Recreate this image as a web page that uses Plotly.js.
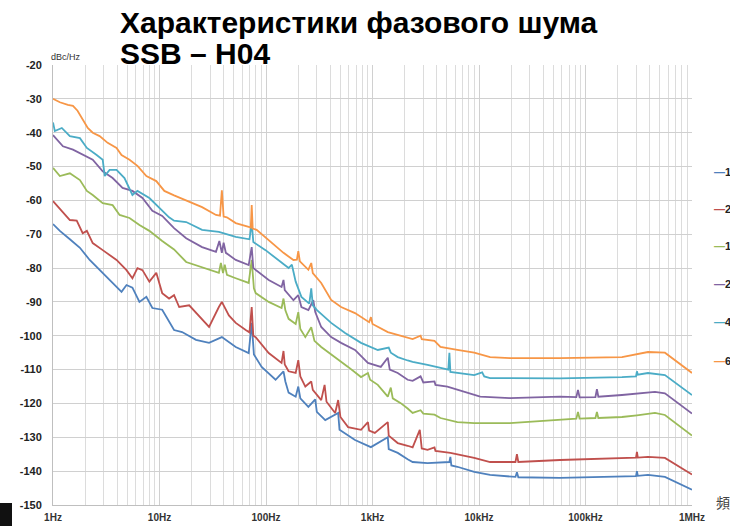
<!DOCTYPE html>
<html><head><meta charset="utf-8">
<script src="https://cdn.plot.ly/plotly-3.0.1.min.js"></script>
<style>body{margin:0;background:#fff}#chart{width:730px;height:526px}</style>
</head><body><div id="chart"></div>
<script>
// Offset frequency (Hz) and SSB phase noise (dBc/Hz) per carrier
const f10M = [1,1.16,1.44,1.79,2.21,2.74,3.4,3.95,4.4,4.9,5.57,6.48,7.53,8.57,10.6,13.7,16.3,22,29.2,38.5,52,68.8,73.4,77,91,123,146,152,163,190,201,210,250,290,300,360,476,490,685,966,1392,1420,1726,2138,2382,3286,5273,5385,5500,6262,9020,12710,19500,22000,22700,23400,57600,220000,298000,304000,310000,386000,557000,1000000];
const n10M = [-67,-69,-71.5,-74,-77.6,-80.6,-83.5,-85.6,-87,-85,-85.8,-90,-88.5,-91.8,-92.3,-98.3,-98.9,-101.2,-102.1,-100.4,-103.3,-105.1,-96.2,-105.5,-109.2,-113,-110.5,-113.5,-116.8,-118,-115,-118.5,-121,-118.8,-122.5,-124.9,-122.8,-127.8,-130.8,-132.9,-130,-133.5,-134.6,-136.5,-137.3,-137.6,-137.3,-135.8,-138.3,-138.7,-140.2,-141.1,-141.7,-141.7,-140.3,-141.8,-142,-141.7,-141.5,-140,-141.4,-141.1,-141.7,-145.5];

const f20M = [1,1.24,1.44,1.67,1.9,2.08,2.36,2.93,3.95,4.9,5.57,6.21,6.92,8.03,9.33,10.6,12.3,13.7,15.3,19,25.1,29.2,36.1,38.5,44.8,52,64.5,70,73.4,76,80,106,140,146,150,163,190,201,210,234,266,275,330,355,370,446,476,500,590,780,906,930,1052,1392,1420,1726,2138,2382,2780,2900,3286,3820,3900,5385,9020,12710,19500,22000,22700,23400,57600,220000,298000,304000,310000,386000,557000,1000000];
const n20M = [-60.2,-63.7,-65.8,-66,-69.7,-69,-72.6,-74.7,-77.6,-80.6,-83,-80,-80.6,-84,-81.4,-87.4,-89,-88,-91.5,-91,-95.3,-97.4,-91.5,-90,-94,-96.2,-98.3,-99,-91.5,-100,-100.4,-105.1,-108,-104.5,-108.5,-110.5,-111,-107.2,-112,-115,-113.5,-116,-119,-114.5,-119.5,-122.8,-119,-124,-127,-127.8,-125.5,-128,-128.7,-125.5,-129.5,-131.7,-132.5,-133,-127.8,-133.3,-133.7,-133,-134,-134.6,-136.1,-137.3,-137.3,-137.3,-135,-137.3,-136.7,-136.1,-136,-134.3,-136,-135.8,-136.1,-141];

const f100M = [1,1.16,1.44,1.79,2.08,2.36,2.93,3.63,4.22,5.23,6.48,8.03,10.6,13.7,17.8,25.1,36.1,37.7,39.5,41,43,52,68.8,73.4,77,80,106,140,146,152,163,190,201,210,234,266,285,330,446,590,780,906,950,1122,1392,1485,1550,1841,2138,2382,2827,3000,3820,4345,6262,9020,19500,57600,82000,85000,88000,124000,128000,132000,220000,304000,449000,557000,1000000];
const n100M = [-50.4,-52.8,-52,-54,-57.2,-58.4,-60.8,-61.4,-64.3,-65.2,-67.3,-69,-72,-74.5,-78.2,-79.7,-81.4,-78.5,-81.5,-79,-82,-83,-84.4,-77.6,-86,-87.4,-90,-91.8,-89,-92.5,-95,-96.5,-93,-98,-100.4,-97.5,-101.5,-103.3,-106.3,-109.2,-112.2,-111,-113,-114.5,-118,-115.3,-118.5,-119.9,-121.5,-122.8,-122,-123,-123.3,-124.3,-125.5,-125.8,-125.8,-124.9,-124.5,-122.5,-124.5,-124.3,-122.5,-124.3,-124,-123.5,-122.8,-123.4,-129.5];

const f200M = [1,1.24,1.54,1.9,2.36,2.93,3.63,4.5,5.57,6.92,8.57,10.6,13.7,17.8,25.1,33.9,36.5,38.5,40,42,52,68.8,73.4,76,85.3,106,140,146,150,181,201,215,250,278,290,330,409,507,685,906,1197,1392,1453,1726,2138,2382,2827,3000,3820,3900,5050,7278,10260,19500,57600,82000,85000,88000,124000,128000,132000,220000,304000,449000,557000,1000000];
const n200M = [-40.7,-44,-45,-46.6,-48,-51.4,-53.4,-56.3,-57.2,-59.3,-63.1,-64.6,-68.2,-71.2,-73.8,-75.2,-72,-75.5,-72.5,-75.5,-77.6,-79.1,-73.8,-80,-81.2,-83.5,-85.6,-83.5,-86.5,-89.5,-88,-91.5,-92.4,-89.5,-93,-97.4,-100.4,-102.1,-104.2,-108,-109.2,-106.5,-110,-111,-113,-113.3,-112,-113.8,-113.5,-114.5,-115,-116.6,-118,-118.4,-118,-118.1,-116,-118.2,-118.1,-115.8,-118,-117.5,-117,-116.6,-117,-123];

const f400M = [1,1.04,1.21,1.44,1.79,2.08,2.57,2.93,3.06,3.4,3.95,4.69,5.57,6.21,8.03,9.96,12.3,13.7,17.8,25.1,36.1,52,70,73.4,76,99,131,163,175,190,215,255,266,275,301,409,553,780,1122,1420,1485,1726,2138,2382,3286,4345,5150,5273,5385,9020,10710,11200,12710,19500,57600,220000,298000,304000,310000,386000,557000,1000000];
const n400M = [-37,-39.5,-38.6,-41,-41.6,-44.5,-46.6,-48,-52.8,-51,-51,-53.4,-58.4,-57.2,-59.3,-62.2,-65,-66,-66.4,-68.7,-69.3,-70.8,-71.5,-66.5,-72.3,-74.7,-77.6,-80,-79,-84,-88.5,-90.5,-86,-91,-92.4,-96.2,-99.2,-102.1,-104.2,-103.5,-105,-106.3,-107.3,-107.7,-108.6,-109.5,-110,-105,-110.7,-111.6,-110.8,-112,-112.5,-112.5,-112.6,-112.2,-112,-110.5,-111.5,-111,-111.6,-117.5];

const f670M = [1,1.16,1.38,1.54,1.7,1.9,2.12,2.36,2.74,3.26,3.95,4.4,5.23,6.21,7.53,9.33,11.1,13.7,17.8,25.1,33.9,37,38.5,40,42.9,52,68.8,72,73.4,75,81.7,99,123,146,181,195,201,208,250,266,275,330,409,507,685,930,966,1000,1392,2006,2382,2827,2900,3820,4345,6262,9020,12710,19500,57600,220000,386000,557000,1000000];
const n670M = [-30,-31,-31.8,-32.1,-33.5,-36.2,-38.6,-40,-41,-43,-44.5,-46.6,-48,-49.8,-52.8,-54.3,-57.2,-58.5,-60,-62,-64.3,-64.5,-57,-64.8,-65,-66.7,-67.8,-68,-61.4,-68.3,-68.7,-71,-73.7,-75.5,-77.6,-77.5,-75,-78,-80.5,-78.5,-81.5,-84.4,-89.4,-91.5,-93.3,-96,-94.5,-96.5,-98.9,-100.4,-101,-100,-101,-101.5,-103.3,-104.2,-105,-106.3,-106.6,-106.6,-106.3,-104.8,-105,-111];

const seriesNames = ['10MHz','20MHz','100MHz','200MHz','400MHz','670MHz'];
const seriesColors = ['#4F81BD','#C0504D','#9BBB59','#8064A2','#4BACC6','#F79646'];
const xTickVals = [1,10,100,1000,10000,100000,1000000];
const xTickText = ['1Hz','10Hz','100Hz','1kHz','10kHz','100kHz','1MHz'];
const yTickVals = [-20,-30,-40,-50,-60,-70,-80,-90,-100,-110,-120,-130,-140,-150];
const yTickText = ['-20','-30','-40','-50','-60','-70','-80','-90','-100','-110','-120','-130','-140','-150'];
const titleLine1 = 'Характеристики фазового шума';
const titleLine2 = 'SSB – H04';

const xs = [f10M,f20M,f100M,f200M,f400M,f670M];
const ys = [n10M,n20M,n100M,n200M,n400M,n670M];

const traces = xs.map((x,i)=>({
  x:x, y:ys[i], type:'scatter', mode:'lines', name:seriesNames[i],
  line:{color:seriesColors[i], width:1.8}
}));

const minorVals = [];
for (let k=0;k<6;k++) for (let m=2;m<10;m++) minorVals.push(m*Math.pow(10,k));

// plot area in pixels: x 53..692, y 65..505
const px = v => (v-53)/639;
const py = v => (505-v)/440;
const legendY = [172,209,246,284,322,361];
const titleFont = {family:'Liberation Sans, Arial, sans-serif', size:30, color:'#000', weight:700};

const annotations = seriesNames.map((n,i)=>({
  xref:'paper', yref:'paper', x:px(712), y:py(legendY[i]), xanchor:'left', yanchor:'middle',
  text:'<span style="color:'+seriesColors[i]+'">—</span>'+n, showarrow:false,
  font:{family:'Liberation Sans, Arial, sans-serif', size:11, color:'#222', weight:700}
}));
annotations.push({xref:'paper', yref:'paper', x:px(118), y:py(35), xanchor:'left', yanchor:'top',
  text:titleLine2, showarrow:false, font:titleFont});
annotations.push({xref:'paper', yref:'paper', x:px(66), y:py(57), xanchor:'center', yanchor:'middle',
  text:'dBc/Hz', showarrow:false, font:{family:'Liberation Sans, Arial, sans-serif', size:9, color:'#333'}});
annotations.push({xref:'paper', yref:'paper', x:px(714), y:py(502), xanchor:'left', yanchor:'middle',
  text:'頻率', showarrow:false, font:{family:'Noto Sans CJK TC, sans-serif', size:14, color:'#444'}});

const layout = {
  width:730, height:526,
  margin:{l:53, r:38, t:65, b:21},
  paper_bgcolor:'#fff', plot_bgcolor:'#fff',
  showlegend:false,
  title:{text:titleLine1, xref:'container', yref:'container',
    x:120/730, xanchor:'left', y:1-12/526, yanchor:'top', font:titleFont},
  xaxis:{type:'log', range:[0,6], tickvals:xTickVals, ticktext:xTickText, ticks:'',
    showgrid:true, gridcolor:'#d0d0d0', gridwidth:1, zeroline:false,
    showline:true, linecolor:'#bfbfbf', linewidth:1,
    minor:{tickvals:minorVals, showgrid:true, gridcolor:'#dcdcdc', gridwidth:1, ticks:''},
    tickfont:{family:'Liberation Sans, Arial, sans-serif', size:10, color:'#333', weight:700},
    ticklabelstandoff:3},
  yaxis:{range:[-150,-20], tickvals:yTickVals, ticktext:yTickText, ticks:'',
    showgrid:true, gridcolor:'#d0d0d0', gridwidth:1, zeroline:false,
    showline:true, linecolor:'#bfbfbf', linewidth:1,
    tickfont:{family:'Liberation Sans, Arial, sans-serif', size:11, color:'#222', weight:700},
    ticklabelstandoff:8},
  annotations:annotations,
  shapes:[{type:'rect', xref:'paper', yref:'paper', x0:px(0), x1:px(12), y0:py(526), y1:py(503),
    fillcolor:'#111', line:{width:0}}]
};
Plotly.newPlot('chart', traces, layout, {staticPlot:true, displayModeBar:false});
</script>
</body></html>
